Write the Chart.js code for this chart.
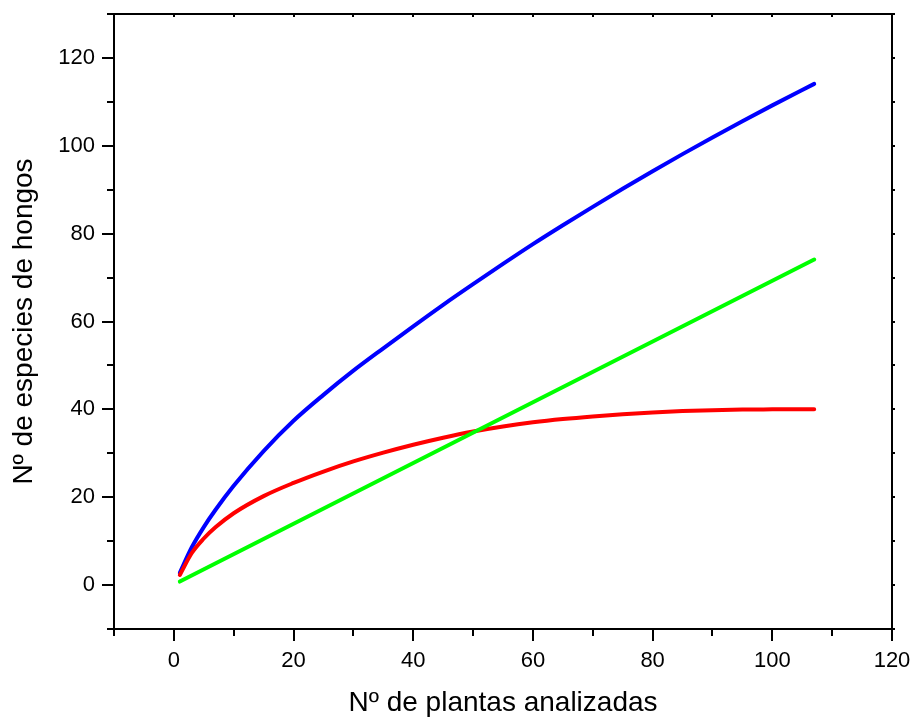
<!DOCTYPE html>
<html>
<head>
<meta charset="utf-8">
<script src="https://cdn.jsdelivr.net/npm/chart.js@4.4.1/dist/chart.umd.min.js"></script>
<style>
    body { margin: 0; background: #fff; }
    #wrap { width: 916px; height: 722px; }
</style>
</head>
<body>
<div id="wrap"><canvas id="curvas"></canvas></div>
<script>
// valores
const plantas = [1, 3, 5, 7, 10, 15, 20, 25, 30, 35, 40, 45, 50, 55, 60, 65, 70, 75, 80, 85, 90, 95, 100, 107];
const especiesAzul = [2.8, 8.6, 13.2, 17.2, 22.6, 30.5, 37.4, 43.3, 48.8, 53.9, 58.9, 63.8, 68.5, 73.1, 77.6, 81.9, 86.1, 90.2, 94.2, 98.1, 101.9, 105.6, 109.2, 114.1];
const especiesRoja = [2.3, 7.3, 10.6, 13.2, 16.35, 20.25, 23.25, 25.85, 28.15, 30.15, 31.95, 33.55, 34.95, 36.1, 37.05, 37.8, 38.4, 38.9, 39.3, 39.6, 39.8, 39.95, 40.0, 40.05];
const plantasRecta = [1, 107];
const especiesVerde = [0.8, 74.1];

const xMayores = [0, 20, 40, 60, 80, 100, 120];
const xMenores = [-10, 10, 30, 50, 70, 90, 110];
const yMayores = [0, 20, 40, 60, 80, 100, 120];
const yMenores = [-10, 10, 30, 50, 70, 90, 110, 130];

const fuente = '"Liberation Sans", Arial, sans-serif';

function puntos(xs, ys) {
    return xs.map((x, i) => ({ x: x, y: ys[i] }));
}

// marco y marcas de los ejes
const marco = {
    id: 'marco',
    afterDraw(chart) {
        const ctx = chart.ctx;
        const a = chart.chartArea;
        const sx = chart.scales.x;
        const sy = chart.scales.y;
        ctx.save();
        ctx.strokeStyle = '#000';
        ctx.lineWidth = 2;
        ctx.strokeRect(a.left, a.top, a.right - a.left, a.bottom - a.top);

        function marca(x1, y1, x2, y2) {
            ctx.beginPath();
            ctx.moveTo(x1, y1);
            ctx.lineTo(x2, y2);
            ctx.stroke();
        }
        xMayores.forEach(v => {
            const p = Math.round(sx.getPixelForValue(v));
            marca(p, a.bottom, p, a.bottom + 12);
            marca(p, a.top, p, a.top + 3);
        });
        xMenores.forEach(v => {
            const p = Math.round(sx.getPixelForValue(v));
            marca(p, a.bottom, p, a.bottom + 7);
            marca(p, a.top, p, a.top + 3);
        });
        yMayores.forEach(v => {
            const p = Math.round(sy.getPixelForValue(v));
            marca(a.left - 12, p, a.left, p);
            marca(a.right, p, a.right + 3, p);
        });
        yMenores.forEach(v => {
            const p = Math.round(sy.getPixelForValue(v));
            marca(a.left - 7, p, a.left, p);
            marca(a.right, p, a.right + 3, p);
        });
        ctx.restore();
    }
};

const serie = (datos, color) => ({
    data: datos,
    borderColor: color,
    backgroundColor: color,
    borderWidth: 4,
    pointRadius: 0,
    fill: false,
    cubicInterpolationMode: 'monotone',
    borderCapStyle: 'round',
    borderJoinStyle: 'round'
});

new Chart(document.getElementById('curvas').getContext('2d'), {
    type: 'scatter',
    data: {
        datasets: [
            serie(puntos(plantasRecta, especiesVerde), '#00ff00'),
            serie(puntos(plantas, especiesRoja), '#ff0000'),
            serie(puntos(plantas, especiesAzul), '#0000ff')
        ]
    },
    options: {
        responsive: true,
        maintainAspectRatio: false,
        animation: false,
        showLine: true,
        layout: { padding: { top: 14, right: 24, left: 0, bottom: 0 } },
        plugins: { legend: { display: false }, tooltip: { enabled: false } },
        scales: {
            x: {
                type: 'linear',
                min: -10,
                max: 120,
                afterBuildTicks: s => { s.ticks = xMayores.map(v => ({ value: v })); },
                afterFit: s => {
                    s.height = 93;
                    s.paddingLeft = 0;
                    s.paddingRight = 0;
                },
                grid: { display: false, drawTicks: false },
                border: { display: false },
                ticks: {
                    color: '#000',
                    font: { family: fuente, size: 22 },
                    padding: 19,
                    maxRotation: 0
                },
                title: {
                    display: true,
                    text: 'Nº de plantas analizadas',
                    color: '#000',
                    font: { family: fuente, size: 28 },
                    padding: { top: 4, bottom: 2 }
                }
            },
            y: {
                type: 'linear',
                min: -10,
                max: 130,
                afterBuildTicks: s => { s.ticks = yMayores.map(v => ({ value: v })); },
                afterFit: s => {
                    s.width = 114;
                    s.paddingTop = 0;
                    s.paddingBottom = 0;
                },
                grid: { display: false, drawTicks: false },
                border: { display: false },
                ticks: {
                    color: '#000',
                    font: { family: fuente, size: 22 },
                    padding: 19
                },
                title: {
                    display: true,
                    text: 'Nº de especies de hongos',
                    color: '#000',
                    font: { family: fuente, size: 28 },
                    padding: { top: 7, bottom: 0 }
                }
            }
        }
    },
    plugins: [marco]
});
</script>
</body>
</html>
